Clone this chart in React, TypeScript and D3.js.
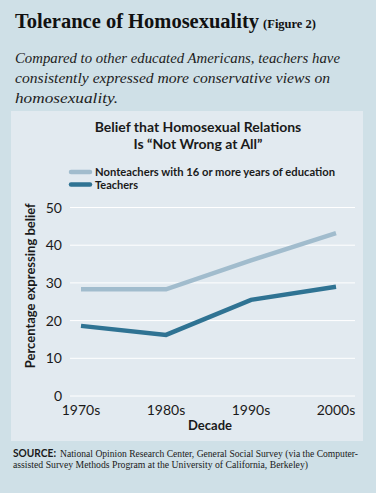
import React from "react";
import * as d3 from "d3";

const decades = ["1970s", "1980s", "1990s", "2000s"];
const nonteachers = [28.3, 28.3, 36.0, 43.2];
const teachers = [18.6, 16.2, 25.5, 29.0];
const yTicks = [0, 10, 20, 30, 40, 50];
const seriesNames = ["Nonteachers with 16 or more years of education", "Teachers"];
const seriesColors = ["#a1bccd", "#2f7393"];

const W = 376;
const H = 493;

export default function App() {
  const x = d3.scalePoint<string>().domain(decades).range([81, 336]);
  const y = d3.scaleLinear().domain([0, 50]).range([396, 207.5]);
  const line = d3
    .line<number>()
    .x((_, i) => x(decades[i]) as number)
    .y((d) => y(d));
  const series = [nonteachers, teachers];
  const sans = "Lato, 'Noto Sans', sans-serif";
  const serif = "'Liberation Serif', 'DejaVu Serif', serif";
  return (
    <svg
      width={W}
      height={H}
      style={{ position: "absolute", left: 0, top: 0 }}
      xmlns="http://www.w3.org/2000/svg"
    >
      <rect x={0} y={0} width={W} height={H} fill="#cfe0e7" />
      <text x={15} y={28} fontFamily={serif} fontWeight="bold" fontSize={20.5} fill="#111">
        Tolerance of Homosexuality
        <tspan fontSize={12.5} dx={4}>(Figure 2)</tspan>
      </text>
      <g fontFamily={serif} fontStyle="italic" fontSize={14.8} fill="#222">
        <text x={15} y={63} textLength={325} lengthAdjust="spacingAndGlyphs">Compared to other educated Americans, teachers have</text>
        <text x={15} y={83} textLength={315} lengthAdjust="spacingAndGlyphs">consistently expressed more conservative views on</text>
        <text x={15} y={103} textLength={103} lengthAdjust="spacingAndGlyphs">homosexuality.</text>
      </g>
      <rect x={11} y={111} width={352} height={330} fill="#e2eaf0" />
      <g fontFamily={sans} fontWeight="bold" fontSize={14} fill="#1a1a1a" textAnchor="middle">
        <text x={198} y={132}>Belief that Homosexual Relations</text>
        <text x={198} y={149}>Is “Not Wrong at All”</text>
      </g>
      {seriesNames.map((n, i) => (
        <g key={n}>
          <line
            x1={71}
            x2={90}
            y1={172 + i * 12.5}
            y2={172 + i * 12.5}
            stroke={seriesColors[i]}
            strokeWidth={4.5}
            strokeLinecap="round"
          />
          <text
            x={95}
            y={176 + i * 12.5}
            fontFamily={sans}
            fontWeight="bold"
            fontSize={11.2}
            fill="#1a1a1a"
            textLength={i === 0 ? 240 : 43}
            lengthAdjust="spacingAndGlyphs"
          >
            {n}
          </text>
        </g>
      ))}
      {yTicks.map((t) => (
        <g key={t}>
          <line x1={70} x2={355} y1={y(t)} y2={y(t)} stroke="#ffffff" strokeWidth={1} />
          <text
            x={62}
            y={y(t) + 5}
            textAnchor="end"
            fontFamily={sans}
            fontSize={14}
            fill="#1a1a1a"
          >
            {t}
          </text>
        </g>
      ))}
      <text
        transform={`translate(35,${y(25) - 16}) rotate(-90)`}
        textAnchor="middle"
        fontFamily={sans}
        fontWeight="bold"
        fontSize={13}
        fill="#1a1a1a"
      >
        Percentage expressing belief
      </text>
      {series.map((s, i) => (
        <path
          key={i}
          d={line(s) || ""}
          fill="none"
          stroke={seriesColors[i]}
          strokeWidth={4.5}
          strokeLinejoin="miter"
        />
      ))}
      {decades.map((d) => (
        <text
          key={d}
          x={x(d)}
          y={415}
          textAnchor="middle"
          fontFamily={sans}
          fontSize={14}
          fill="#1a1a1a"
        >
          {d}
        </text>
      ))}
      <text
        x={210}
        y={430}
        textAnchor="middle"
        fontFamily={sans}
        fontWeight="bold"
        fontSize={13}
        fill="#1a1a1a"
      >
        Decade
      </text>
      <g fontFamily={serif} fontSize={10} fill="#1a1a1a">
        <text x={13} y={457} fontFamily={sans} fontWeight="bold" fontSize={10.5} textLength={43} lengthAdjust="spacingAndGlyphs">SOURCE:</text>
        <text x={60} y={457} textLength={298} lengthAdjust="spacingAndGlyphs">
          National Opinion Research Center, General Social Survey (via the Computer-
        </text>
        <text x={13} y={468} textLength={295} lengthAdjust="spacingAndGlyphs">
          assisted Survey Methods Program at the University of California, Berkeley)
        </text>
      </g>
    </svg>
  );
}
